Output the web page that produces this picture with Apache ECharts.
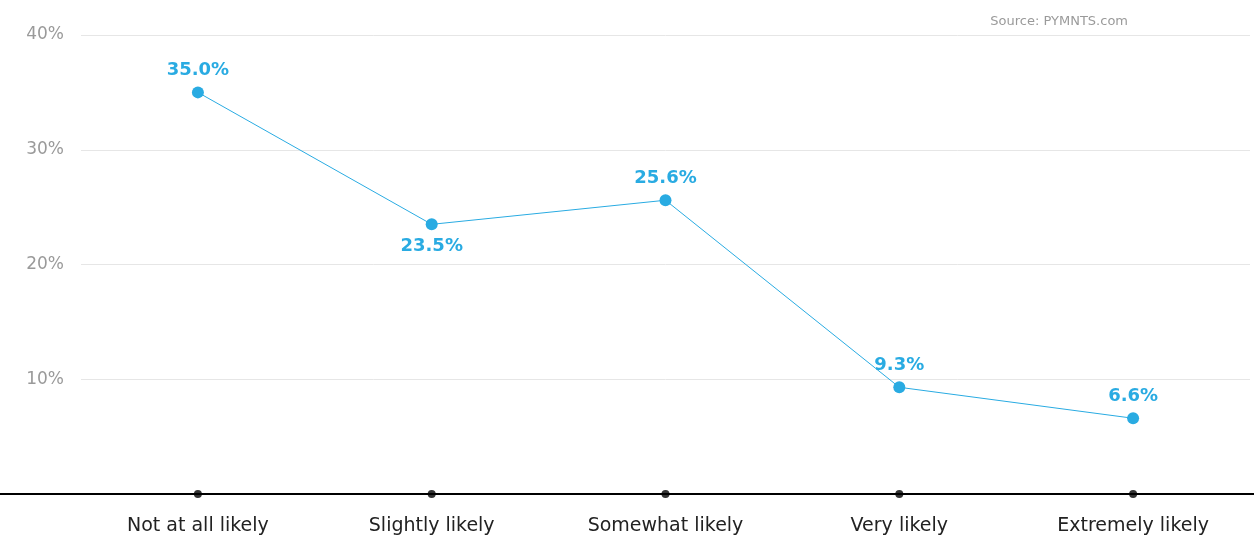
<!DOCTYPE html>
<html><head><meta charset="utf-8">
<script src="https://cdn.jsdelivr.net/npm/echarts@6/dist/echarts.min.js"></script>
<style>html,body{margin:0;padding:0;background:#fff}#c{width:1254px;height:538px}</style>
</head><body><div id="c"></div>
<script>
const categories = ["Not at all likely","Slightly likely","Somewhat likely","Very likely","Extremely likely"];
const values = [35.0, 23.5, 25.6, 9.3, 6.6];
const labelPositions = ["top","bottom","top","top","top"];
const yTicks = [0, 10, 20, 30, 40];
const sourceText = "Source: PYMNTS.com";

const blue = "#29abe2";
const wide = 'DejaVu Sans';

function draw(){
  const chart = echarts.init(document.getElementById('c'), null, {renderer:'canvas'});
  chart.setOption({
    animation:false,
    title:{text:sourceText, right:121, top:10, textStyle:{fontFamily:wide, fontSize:13, fontWeight:'normal', color:'#9a9a9a'}},
    grid:[
      {left:81, right:4, top:35, bottom:44, containLabel:false},
      {left:0, right:0, top:35, bottom:44, containLabel:false}
    ],
    xAxis:[
      {type:'category', data:categories, gridIndex:0, boundaryGap:true,
       axisLine:{show:false}, axisTick:{show:false},
       axisLabel:{fontFamily:wide, fontSize:19, color:'#222', margin:23}},
      {type:'value', gridIndex:1, min:0, max:1, show:true,
       axisLine:{show:true, onZero:false, lineStyle:{color:'#000', width:2}},
       axisTick:{show:false}, axisLabel:{show:false}, splitLine:{show:false}}
    ],
    yAxis:[
      {type:'value', gridIndex:0, min:yTicks[0], max:yTicks[yTicks.length-1], interval:10,
       axisLine:{show:false}, axisTick:{show:false},
       splitLine:{lineStyle:{color:'#e6e6e6', width:1}},
       axisLabel:{fontFamily:wide, fontSize:17, color:'#9a9a9a', margin:17,
         formatter:v => v===0 ? '' : v + '%'}},
      {type:'value', gridIndex:1, show:false, min:0, max:1}
    ],
    series:[
      {type:'scatter', xAxisIndex:0, yAxisIndex:0, data:categories.map(()=>0),
       symbol:'circle', symbolSize:8, itemStyle:{color:'#000'}, clip:false, z:5, silent:true},
      {type:'line', xAxisIndex:0, yAxisIndex:0,
       data:values.map((v,i)=>({value:v, label:{position:labelPositions[i]}})),
       symbol:'circle', symbolSize:12, showAllSymbol:true,
       lineStyle:{color:blue, width:1}, itemStyle:{color:blue},
       label:{show:true, distance:7, formatter:p=>p.value.toFixed(1)+'%',
         fontFamily:wide, fontWeight:'bold', fontSize:18, color:blue}}
    ]
  });
}
const loads = ['bold 18px "DejaVu Sans"','13px "DejaVu Sans"','19px "DejaVu Sans"'].map(f=>document.fonts.load(f).catch(()=>null));
Promise.all(loads).then(draw, draw);
</script></body></html>
